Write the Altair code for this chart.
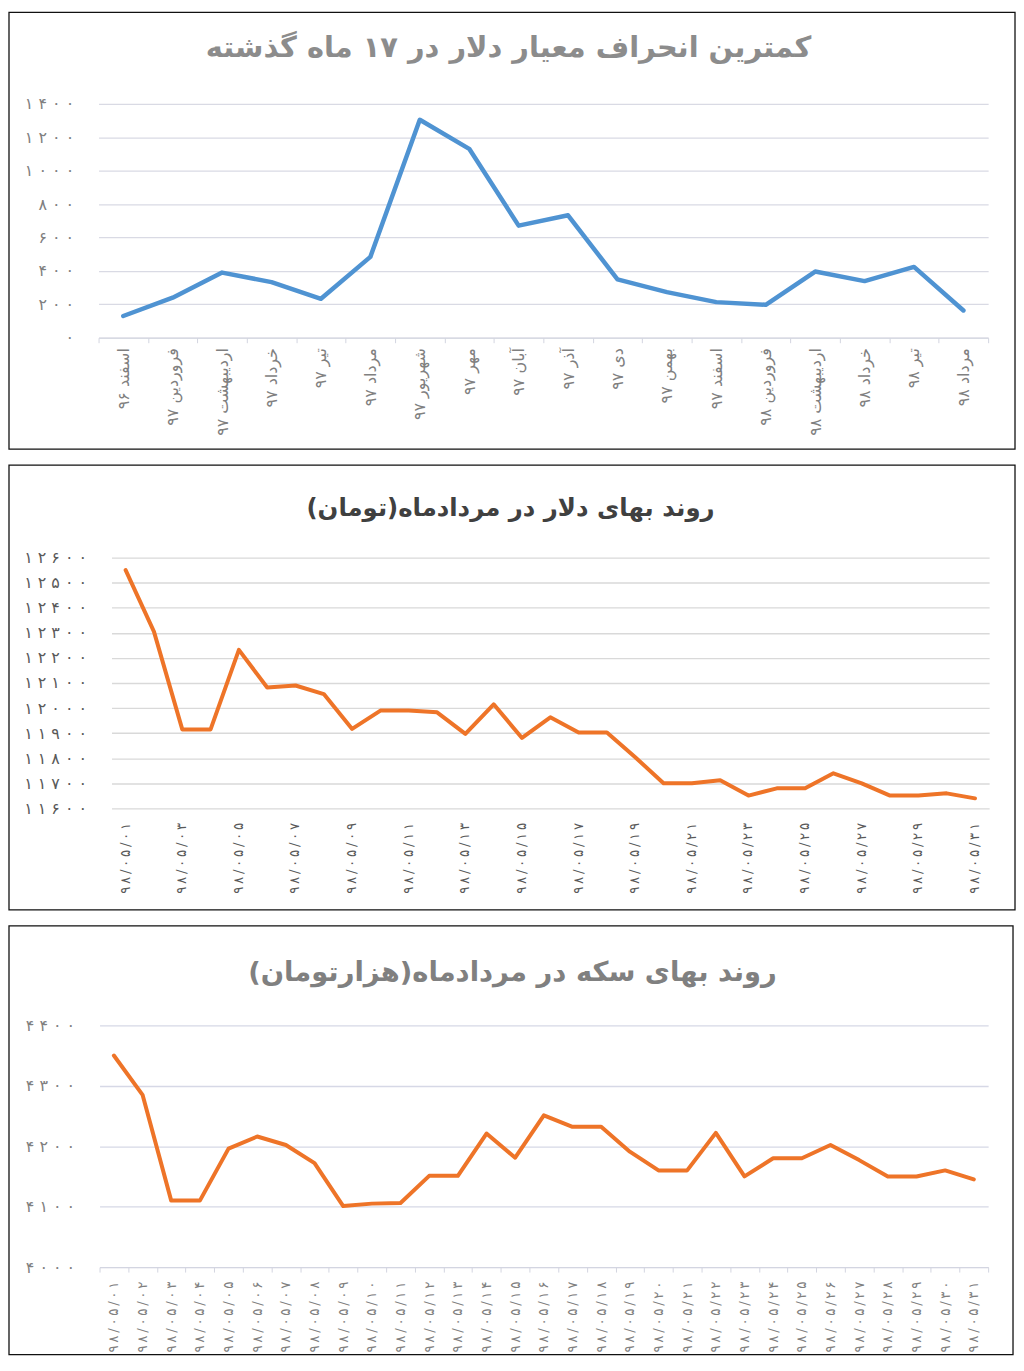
import altair as alt
import pandas as pd

FONT = "DejaVu Sans"
BLUE = "#4f93d2"
ORANGE = "#ee7428"

# ---------------- data ----------------
title1 = "کمترین انحراف معیار دلار در ۱۷ ماه گذشته"
title2 = "روند بهای دلار در مردادماه(تومان)" + "\u200f"
title3 = "روند بهای سکه در مردادماه(هزارتومان)" + "\u200f"

months = ["اسفند ۹۶", "فروردین ۹۷", "اردیبهشت ۹۷", "خرداد ۹۷", "تیر ۹۷", "مرداد ۹۷",
          "شهریور ۹۷", "مهر ۹۷", "آبان ۹۷", "آذر ۹۷", "دی ۹۷", "بهمن ۹۷",
          "اسفند ۹۷", "فروردین ۹۸", "اردیبهشت ۹۸", "خرداد ۹۸", "تیر ۹۸", "مرداد ۹۸"]
std_dev = [130, 240, 390, 333, 233, 484, 1305, 1131, 671, 733, 349, 273,
           213, 197, 396, 339, 424, 163]

days = ["۹۸/۰۵/۰۱", "۹۸/۰۵/۰۲", "۹۸/۰۵/۰۳", "۹۸/۰۵/۰۴", "۹۸/۰۵/۰۵", "۹۸/۰۵/۰۶",
        "۹۸/۰۵/۰۷", "۹۸/۰۵/۰۸", "۹۸/۰۵/۰۹", "۹۸/۰۵/۱۰", "۹۸/۰۵/۱۱", "۹۸/۰۵/۱۲",
        "۹۸/۰۵/۱۳", "۹۸/۰۵/۱۴", "۹۸/۰۵/۱۵", "۹۸/۰۵/۱۶", "۹۸/۰۵/۱۷", "۹۸/۰۵/۱۸",
        "۹۸/۰۵/۱۹", "۹۸/۰۵/۲۰", "۹۸/۰۵/۲۱", "۹۸/۰۵/۲۲", "۹۸/۰۵/۲۳", "۹۸/۰۵/۲۴",
        "۹۸/۰۵/۲۵", "۹۸/۰۵/۲۶", "۹۸/۰۵/۲۷", "۹۸/۰۵/۲۸", "۹۸/۰۵/۲۹", "۹۸/۰۵/۳۰",
        "۹۸/۰۵/۳۱"]
dollar = [12550, 12305, 11915, 11915, 12232, 12082, 12090, 12056, 11917, 11990,
          11990, 11983, 11897, 12015, 11881, 11963, 11903, 11903, 11804, 11700,
          11700, 11712, 11651, 11680, 11680, 11740, 11700, 11651, 11651, 11660,
          11640]
coin = [4350, 4285, 4110, 4110, 4196, 4216, 4202, 4172, 4101, 4105,
        4106, 4151, 4151, 4221, 4181, 4251, 4232, 4232, 4191, 4160,
        4160, 4222, 4150, 4180, 4180, 4202, 4177, 4150, 4150, 4160,
        4145]

p1_ticks = [0, 200, 400, 600, 800, 1000, 1200, 1400]
p1_tick_labels = ["۰", "۲۰۰", "۴۰۰", "۶۰۰", "۸۰۰", "۱۰۰۰", "۱۲۰۰", "۱۴۰۰"]
p2_ticks = [11600, 11700, 11800, 11900, 12000, 12100, 12200, 12300, 12400, 12500, 12600]
p2_tick_labels = ["۱۱۶۰۰", "۱۱۷۰۰", "۱۱۸۰۰", "۱۱۹۰۰", "۱۲۰۰۰", "۱۲۱۰۰",
                  "۱۲۲۰۰", "۱۲۳۰۰", "۱۲۴۰۰", "۱۲۵۰۰", "۱۲۶۰۰"]
p3_ticks = [4000, 4100, 4200, 4300, 4400]
p3_tick_labels = ["۴۰۰۰", "۴۱۰۰", "۴۲۰۰", "۴۳۰۰", "۴۴۰۰"]

LRO, PDF = "\u202d", "\u202c"


def spaced(s, sep=" "):
    return LRO + sep.join(s) + PDF


def label_expr(values, labels):
    expr = "''"
    for v, l in reversed(list(zip(values, labels))):
        expr = f"datum.value == {v} ? '{spaced(l)}' : ({expr})"
    return expr


date_label_expr = "'" + LRO + "' + join(split(datum.label, ''), '\u2009') + '" + PDF + "'"

one = pd.DataFrame({"k": [0]})


def y_axis(values, labels, color, grid_color, offset=0):
    return alt.Axis(values=values, labelExpr=label_expr(values, labels), title=None,
                    domain=False, ticks=False, labelPadding=25, labelFont=FONT,
                    labelFontSize=16, labelColor=color, gridColor=grid_color,
                    gridWidth=1.3, offset=offset)


def frame(x1, x2, y1, y2):
    return alt.Chart(one).mark_rect(filled=False, stroke="#111111", strokeWidth=1.3).encode(
        x=alt.value(x1), x2=alt.value(x2), y=alt.value(y1), y2=alt.value(y2))


def title_text(text, x, y, size, color):
    return alt.Chart(one).mark_text(text=text, font=FONT, fontSize=size, fontWeight="bold",
                                    color=color, align="center", baseline="middle").encode(
        x=alt.value(x), y=alt.value(y))


# ---------------- panel 1 ----------------
df1 = pd.DataFrame({"month": months, "value": std_dev})
line1 = alt.Chart(df1).mark_line(color=BLUE, strokeWidth=4.5, strokeJoin="round",
                                 strokeCap="round").encode(
    x=alt.X("month:N", sort=months,
            scale=alt.Scale(type="band", paddingInner=0, paddingOuter=0, range=[-13, 881]),
            axis=alt.Axis(title=None, labelAngle=270, labelAlign="right",
                          labelBaseline="middle", labelFont=FONT, labelFontSize=16,
                          labelColor="#808080", labelPadding=5, tickBand="extent",
                          ticks=True, tickSize=5, tickColor="#d3d5e0",
                          domainColor="#d3d5e0", grid=False)),
    y=alt.Y("value:Q", scale=alt.Scale(domain=[0, 1400], nice=False),
            axis=y_axis(p1_ticks, p1_tick_labels, "#808080", "#d9dae4", offset=13)),
)
panel1 = alt.layer(frame(-103, 908, -92, 347),
                   title_text(title1, 399, -56, 29, "#8c8c8c"),
                   line1).properties(width=881, height=235)

# ---------------- panel 2 ----------------
df2 = pd.DataFrame({"day": days, "value": dollar})
line2 = alt.Chart(df2).mark_line(color=ORANGE, strokeWidth=4, strokeJoin="round",
                                 strokeCap="round").encode(
    x=alt.X("day:N", sort=days,
            scale=alt.Scale(type="band", paddingInner=0, paddingOuter=0),
            axis=alt.Axis(title=None, values=days[::2], labelExpr=date_label_expr,
                          labelAngle=270, labelAlign="right", labelBaseline="middle",
                          labelFont=FONT, labelFontSize=13.5, labelColor="#595959",
                          labelPadding=14, ticks=False, tickSize=0, domain=False,
                          grid=False)),
    y=alt.Y("value:Q", scale=alt.Scale(domain=[11600, 12600], nice=False),
            axis=y_axis(p2_ticks, p2_tick_labels, "#595959", "#d9d9d9")),
)
panel2 = alt.layer(frame(-103, 908, -93, 354),
                   title_text(title2, 401, -49, 24.5, "#404040"),
                   line2).properties(width=882, height=252)

# ---------------- panel 3 ----------------
df3 = pd.DataFrame({"day": days, "value": coin})
line3 = alt.Chart(df3).mark_line(color=ORANGE, strokeWidth=4, strokeJoin="round",
                                 strokeCap="round").encode(
    x=alt.X("day:N", sort=days,
            scale=alt.Scale(type="band", paddingInner=0, paddingOuter=0, range=[-12, 881]),
            axis=alt.Axis(title=None, labelExpr=date_label_expr, labelAngle=270,
                          labelAlign="right", labelBaseline="middle", labelFont=FONT,
                          labelFontSize=13.5, labelColor="#808080", labelPadding=9,
                          tickBand="extent", ticks=True, tickSize=5,
                          tickColor="#d3d5e0", domainColor="#d3d5e0", grid=False)),
    y=alt.Y("value:Q", scale=alt.Scale(domain=[4000, 4400], nice=False),
            axis=y_axis(p3_ticks, p3_tick_labels, "#808080", "#d6d8e6", offset=12)),
)
panel3 = alt.layer(frame(-103, 906, -100, 331),
                   title_text(title3, 403, -53, 27.5, "#808080"),
                   line3).properties(width=881, height=243)

chart = alt.concat(panel1, panel2, panel3, columns=1, spacing=14).properties(
    padding=0, background="white"
).configure_view(strokeWidth=0)

chart.save("out.html", embed_options={"renderer": "svg", "actions": False})
